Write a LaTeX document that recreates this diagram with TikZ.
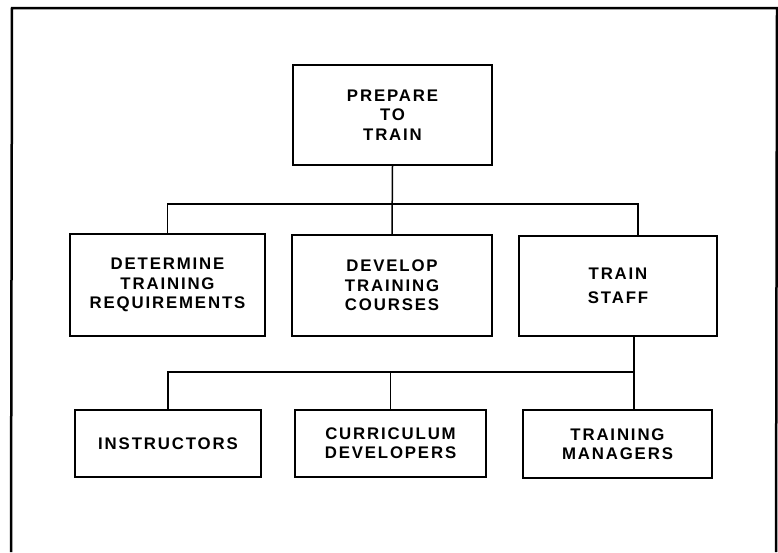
\documentclass[tikz,border=0pt]{standalone}
\usepackage{fontspec}
\newfontfamily\chartfont{Liberation Sans}[LetterSpace=11]
\tikzset{
  task/.style={draw, line width=1.6pt, align=center, inner sep=0pt,
    font=\chartfont\bfseries\fontsize{16.8pt}{19.4pt}\selectfont},
  link/.style={line width=1.5pt}
}
\begin{document}
\begin{tikzpicture}[x=1pt, y=-1pt]
\useasboundingbox (0,0) rectangle (778,552);
%frame
\draw[line width=2.5pt] (11,552) -- (12,8) -- (777,8) -- (776,552);

%top
\node[task, minimum width=199pt, minimum height=100pt] (train) at (392.5,115) {PREPARE\\TO\\TRAIN};

%middle row
\node[task, minimum width=195pt, minimum height=102pt] (req) at (167.5,285) {DETERMINE\\TRAINING\\REQUIREMENTS};
\node[task, minimum width=200pt, minimum height=101pt] (course) at (392,285.5) {DEVELOP\\TRAINING\\COURSES};
\node[task, minimum width=198pt, minimum height=100pt] (staff) at (618,286) {TRAIN\\[5pt]STAFF};

%bottom row
\node[task, minimum width=186pt, minimum height=67pt] (instr) at (168,443.5) {INSTRUCTORS};
\node[task, minimum width=191pt, minimum height=67pt] (curric) at (390.5,443.5) {CURRICULUM\\DEVELOPERS};
\node[task, minimum width=189pt, minimum height=68pt] (mgr) at (617.5,444) {TRAINING\\MANAGERS};

%connectors
\coordinate (bus1) at (638,204);
\coordinate (bus2) at (634,372);
\draw[link] (train.south) -- (course.north);
\draw[link] (req.north) |- (bus1) -- (bus1 |- staff.north);
\draw[link] (bus2 |- staff.south) -- (bus2 |- mgr.north);
\draw[link] (instr.north) |- (bus2);
\draw[link] (curric.north) -- (curric.north |- bus2);
\end{tikzpicture}
\end{document}
